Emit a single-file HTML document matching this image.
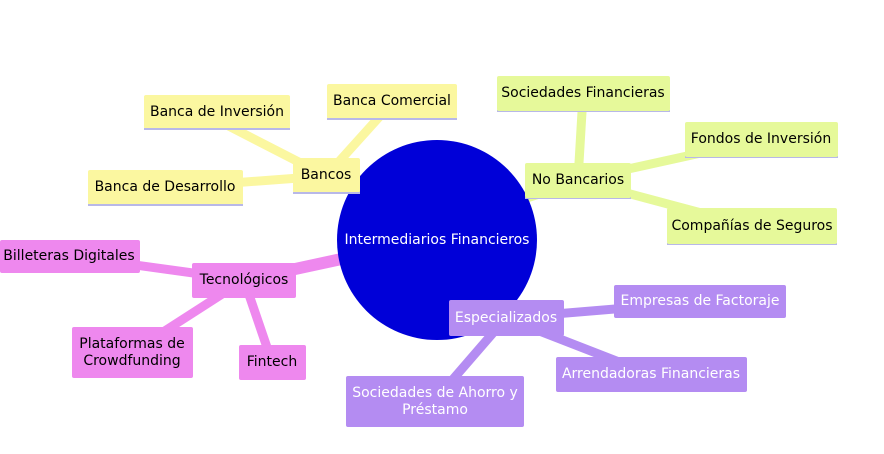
<!DOCTYPE html>
<html><head><meta charset="utf-8"><style>
html,body{margin:0;padding:0;background:#fff;width:884px;height:454px;overflow:hidden}
text{font-family:"DejaVu Sans","Liberation Sans",sans-serif;font-size:14px;text-anchor:middle;dominant-baseline:central}
</style></head><body>
<svg width="884" height="454" viewBox="0 0 884 454" xmlns="http://www.w3.org/2000/svg">
<g stroke-linecap="round">
<g stroke="#fbf7a0">
<line x1="326" y1="176" x2="420" y2="190" stroke-width="12"/>
<line x1="326" y1="176" x2="217" y2="120" stroke-width="9"/>
<line x1="326" y1="176" x2="390" y2="105" stroke-width="9"/>
<line x1="326" y1="176" x2="165" y2="188" stroke-width="9"/>
</g>
<g stroke="#e6f99a">
<line x1="578" y1="180" x2="500" y2="205" stroke-width="12"/>
<line x1="578" y1="180" x2="583" y2="95" stroke-width="9"/>
<line x1="578" y1="180" x2="760" y2="140" stroke-width="9"/>
<line x1="578" y1="180" x2="750" y2="226" stroke-width="9"/>
</g>
<g stroke="#ee88ee">
<line x1="244" y1="280" x2="360" y2="255" stroke-width="12"/>
<line x1="244" y1="280" x2="70" y2="256" stroke-width="9"/>
<line x1="244" y1="280" x2="132" y2="352" stroke-width="9"/>
<line x1="244" y1="280" x2="272" y2="362" stroke-width="9"/>
</g>
<g stroke="#b48cf2">
<line x1="506" y1="318" x2="480" y2="300" stroke-width="12"/>
<line x1="506" y1="318" x2="700" y2="302" stroke-width="9"/>
<line x1="506" y1="318" x2="650" y2="374" stroke-width="9"/>
<line x1="506" y1="318" x2="435" y2="400" stroke-width="9"/>
</g>
</g>
<circle cx="437" cy="240" r="100" fill="#0000d8"/>
<text x="437" y="240" fill="#fff">Intermediarios Financieros</text>

<g fill="#fbf7a0">
<rect x="144" y="95" width="146" height="34" rx="2"/>
<rect x="327" y="84" width="130" height="35" rx="2"/>
<rect x="88" y="170" width="155" height="35" rx="2"/>
<rect x="293" y="158" width="67" height="35" rx="2"/>
</g>
<g fill="#b8b8e8">
<rect x="144" y="128" width="146" height="2"/><rect x="327" y="118" width="130" height="2"/>
<rect x="88" y="204" width="155" height="2"/><rect x="293" y="192" width="67" height="2"/>
<rect x="497" y="110" width="173" height="2"/><rect x="685" y="156" width="153" height="2"/>
<rect x="525" y="197" width="106" height="2"/><rect x="667" y="243" width="170" height="2"/>
</g>
<g fill="#e6f99a">
<rect x="497" y="76" width="173" height="35" rx="2"/>
<rect x="685" y="122" width="153" height="35" rx="2"/>
<rect x="525" y="163" width="106" height="35" rx="2"/>
<rect x="667" y="208" width="170" height="36" rx="2"/>
</g>
<g fill="#ee88ee">
<rect x="0" y="240" width="140" height="33" rx="2"/>
<rect x="192" y="263" width="104" height="35" rx="2"/>
<rect x="72" y="327" width="121" height="51" rx="2"/>
<rect x="239" y="345" width="67" height="35" rx="2"/>
</g>
<g fill="#b48cf2">
<rect x="449" y="300" width="115" height="36" rx="2"/>
<rect x="614" y="285" width="172" height="33" rx="2"/>
<rect x="556" y="357" width="191" height="35" rx="2"/>
<rect x="346" y="376" width="178" height="51" rx="2"/>
</g>
<g fill="#000">
<text x="217" y="112">Banca de Inversión</text>
<text x="392" y="101">Banca Comercial</text>
<text x="165" y="187">Banca de Desarrollo</text>
<text x="326" y="175">Bancos</text>
<text x="583" y="93">Sociedades Financieras</text>
<text x="761" y="139">Fondos de Inversión</text>
<text x="578" y="180">No Bancarios</text>
<text x="752" y="226">Compañías de Seguros</text>
<text x="69" y="256">Billeteras Digitales</text>
<text x="244" y="280">Tecnológicos</text>
<text x="132" y="344">Plataformas de</text>
<text x="132" y="361">Crowdfunding</text>
<text x="272" y="362">Fintech</text>
</g>
<g fill="#fff">
<text x="506" y="318">Especializados</text>
<text x="700" y="301">Empresas de Factoraje</text>
<text x="651" y="374">Arrendadoras Financieras</text>
<text x="435" y="393">Sociedades de Ahorro y</text>
<text x="435" y="410">Préstamo</text>
</g>
</svg>
</body></html>
